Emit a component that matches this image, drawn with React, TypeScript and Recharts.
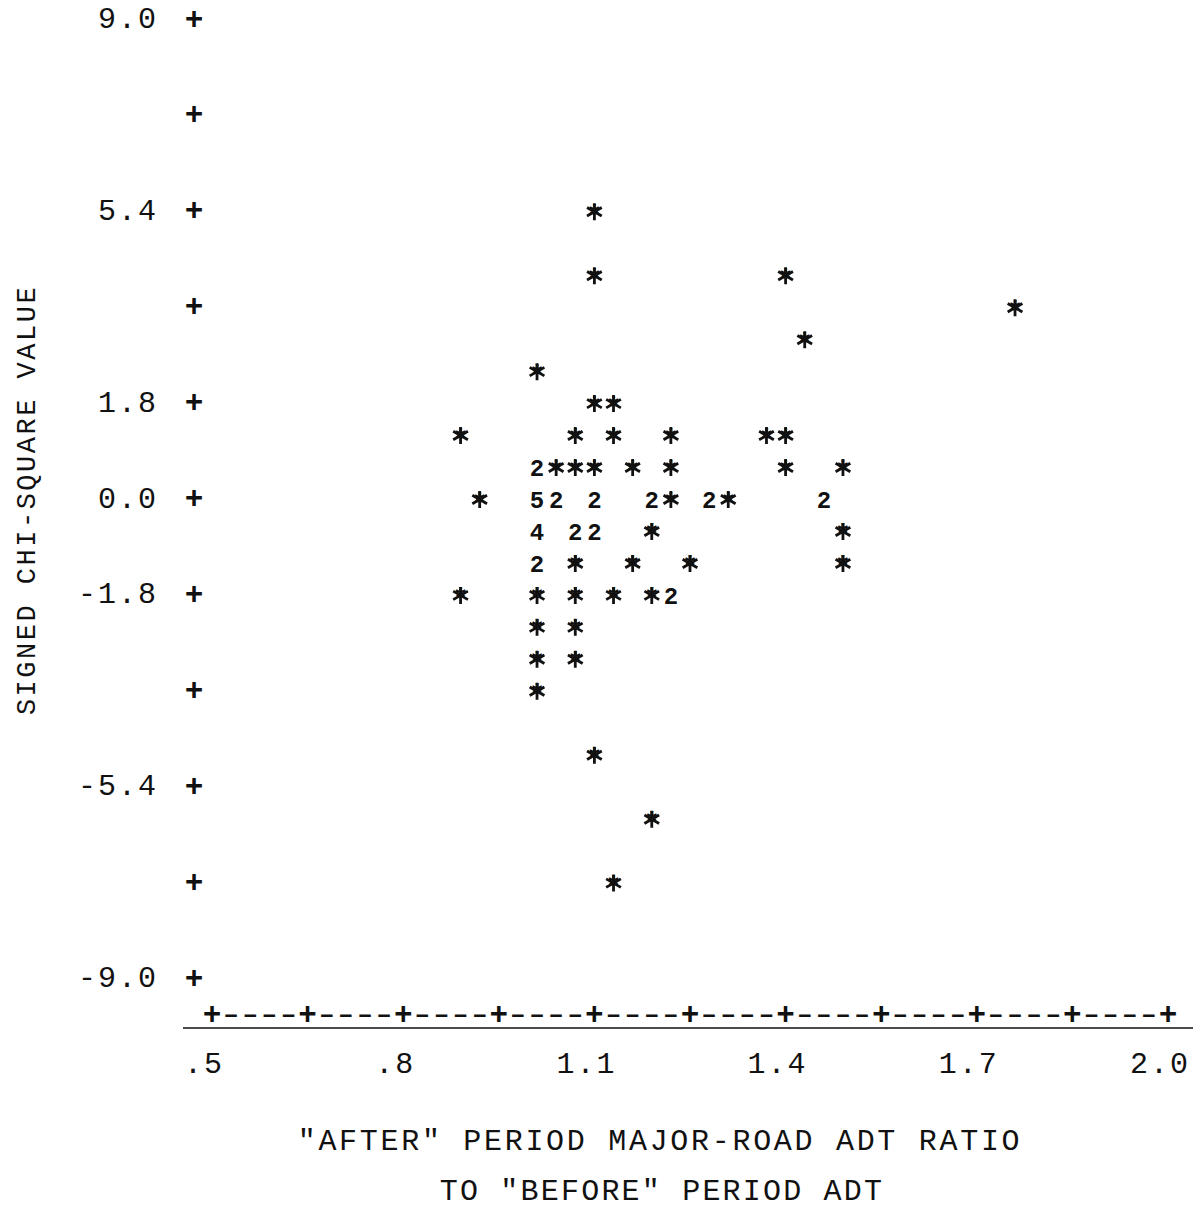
import React from 'react';
import { ScatterChart, Scatter, XAxis, YAxis } from 'recharts';

// axis ticks (the printout puts a "+" at every tick, labels only on some)
const xTicks = [0.5, 0.65, 0.8, 0.95, 1.1, 1.25, 1.4, 1.55, 1.7, 1.85, 2.0];
const xTickLabels = ['.5', '', '.8', '', '1.1', '', '1.4', '', '1.7', '', '2.0'];
const yTicks = [9, 7.2, 5.4, 3.6, 1.8, 0, -1.8, -3.6, -5.4, -7.2, -9];
const yTickLabels = ['9.0', '', '5.4', '', '1.8', '0.0', '-1.8', '', '-5.4', '', '-9.0'];

// ADT ratio, signed chi-square, number of sites printed in the cell (1 = "*")
const pointX = [
  1.10, 1.10, 1.40, 1.76, 1.43, 1.01, 1.10, 1.13,
  0.89, 1.07, 1.13, 1.22, 1.37, 1.40,
  1.01, 1.04, 1.07, 1.10, 1.16, 1.22, 1.40, 1.49,
  0.92, 1.01, 1.04, 1.10, 1.19, 1.22, 1.28, 1.31, 1.46,
  1.01, 1.07, 1.10, 1.19, 1.49,
  1.01, 1.07, 1.16, 1.25, 1.49,
  0.89, 1.01, 1.07, 1.13, 1.19, 1.22,
  1.01, 1.07, 1.01, 1.07, 1.01,
  1.10, 1.19, 1.13,
];
const pointY = [
  5.4, 4.2, 4.2, 3.6, 3.0, 2.4, 1.8, 1.8,
  1.2, 1.2, 1.2, 1.2, 1.2, 1.2,
  0.6, 0.6, 0.6, 0.6, 0.6, 0.6, 0.6, 0.6,
  0, 0, 0, 0, 0, 0, 0, 0, 0,
  -0.6, -0.6, -0.6, -0.6, -0.6,
  -1.2, -1.2, -1.2, -1.2, -1.2,
  -1.8, -1.8, -1.8, -1.8, -1.8, -1.8,
  -2.4, -2.4, -3.0, -3.0, -3.6,
  -4.8, -6.0, -7.2,
];
const pointCount = [
  1, 1, 1, 1, 1, 1, 1, 1,
  1, 1, 1, 1, 1, 1,
  2, 1, 1, 1, 1, 1, 1, 1,
  1, 5, 2, 2, 2, 1, 2, 1, 2,
  4, 2, 2, 1, 1,
  2, 1, 1, 1, 1,
  1, 1, 1, 1, 1, 2,
  1, 1, 1, 1, 1,
  1, 1, 1,
];

const data = pointX.map((x, i) => ({ x, y: pointY[i], n: pointCount[i] }));

const MONO = '"Liberation Mono", "DejaVu Sans Mono", monospace';
const INK = '#111';
const W = 1204;
const H = 1210;
const PLOT_LEFT = 212;
const PLOT_RIGHT = 1168;
const PLOT_TOP = 20;
const PLOT_BOTTOM = 979;
const COL = (PLOT_RIGHT - PLOT_LEFT) / 50;

const Plus = ({ x, y }: { x: number; y: number }) => (
  <text x={x} y={y} textAnchor="middle" dominantBaseline="central" fontFamily={MONO} fontSize={31} fontWeight="bold" fill={INK}>+</text>
);

const YTick = (props: any) => {
  const { x, y, index } = props;
  const label = yTickLabels[index];
  return (
    <g>
      <Plus x={x - 18} y={y} />
      {label && (
        <text x={x - 54} y={y} textAnchor="end" dominantBaseline="central" fontFamily={MONO} fontSize={30} letterSpacing={2} fill={INK}>{label}</text>
      )}
    </g>
  );
};

const XTick = (props: any) => {
  const { x, y, index } = props;
  const label = xTickLabels[index];
  const ly = y + 36;
  return (
    <g>
      <Plus x={x} y={ly} />
      {index < xTicks.length - 1 &&
        [1, 2, 3, 4].map((k) => (
          <text key={k} x={x + k * COL} y={ly} textAnchor="middle" dominantBaseline="central" fontFamily={MONO} fontSize={26} fontWeight="bold" fill={INK}>–</text>
        ))}
      {index === 0 && <line x1={x - 29} x2={x + (PLOT_RIGHT - PLOT_LEFT) + 25} y1={y + 49} y2={y + 49} stroke={INK} strokeWidth={1.6} />}
      {label && (
        <text x={x - 8} y={y + 86} textAnchor="middle" dominantBaseline="central" fontFamily={MONO} fontSize={30} letterSpacing={2} fill={INK}>{label}</text>
      )}
    </g>
  );
};

// printed cell: "*" for one site, digit for several; the typewriter star is
// heavier than the font's, so a six-arm stroke is laid over the glyph
const Mark = (props: any) => {
  const { cx, cy, payload } = props;
  if (payload.n === 1) {
    const r = 8.5;
    const dx = r * 0.866;
    const dy = r * 0.5;
    return (
      <g>
        <text x={cx} y={cy + 12} textAnchor="middle" fontFamily={MONO} fontSize={27} fontWeight="bold" fill={INK}>*</text>
        <path
          d={`M${cx},${cy - r}V${cy + r}M${cx - dx},${cy - dy}L${cx + dx},${cy + dy}M${cx - dx},${cy + dy}L${cx + dx},${cy - dy}`}
          stroke={INK}
          strokeWidth={2.8}
          fill="none"
        />
      </g>
    );
  }
  return (
    <text x={cx} y={cy + 8.5} textAnchor="middle" fontFamily={MONO} fontSize={24} fontWeight="bold" fill={INK}>{payload.n}</text>
  );
};

export default function App() {
  return (
    <div style={{ position: 'absolute', left: 0, top: 0, background: '#fff' }}>
      <ScatterChart width={W} height={H} margin={{ top: PLOT_TOP, right: W - PLOT_RIGHT, bottom: 0, left: 0 }}>
        <XAxis
          type="number"
          dataKey="x"
          domain={[0.5, 2.0]}
          ticks={xTicks}
          tick={<XTick />}
          axisLine={false}
          tickLine={false}
          tickSize={0}
          tickMargin={0}
          height={H - PLOT_BOTTOM}
          interval={0}
          label={{
            content: () => (
              <g fontFamily={MONO} fontSize={30} fill={INK}>
                <text x={660} y={1142} textAnchor="middle" dominantBaseline="central" letterSpacing={2.7}>"AFTER" PERIOD MAJOR-ROAD ADT RATIO</text>
                <text x={662} y={1192} textAnchor="middle" dominantBaseline="central" letterSpacing={2.2}>TO "BEFORE" PERIOD ADT</text>
              </g>
            ),
          }}
        />
        <YAxis
          type="number"
          dataKey="y"
          domain={[-9, 9]}
          ticks={yTicks}
          tick={<YTick />}
          axisLine={false}
          tickLine={false}
          tickSize={0}
          tickMargin={0}
          width={PLOT_LEFT}
          interval={0}
          label={{
            content: () => (
              <text x={28} y={500} transform="rotate(-90 28 500)" textAnchor="middle" dominantBaseline="central" fontFamily={MONO} fontSize={27} letterSpacing={2.5} fill={INK}>
                SIGNED CHI-SQUARE VALUE
              </text>
            ),
          }}
        />
        <Scatter data={data} shape={<Mark />} isAnimationActive={false} />
      </ScatterChart>
    </div>
  );
}
